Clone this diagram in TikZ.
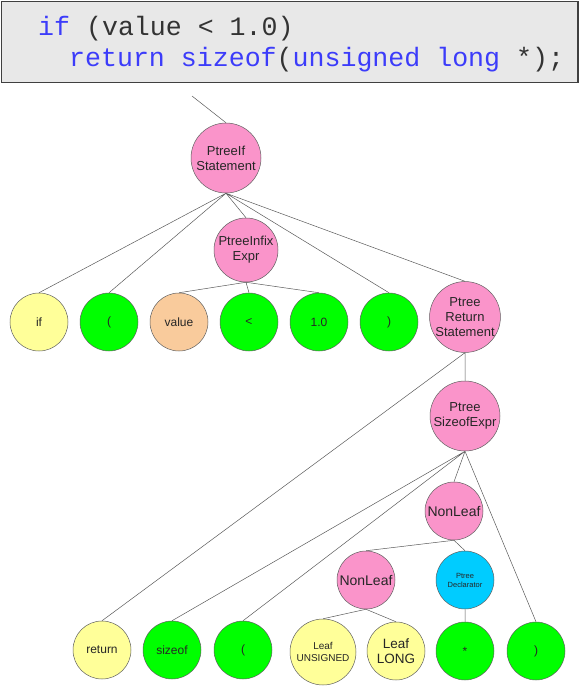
\documentclass[tikz,border=0pt]{standalone}
\usepackage{fontspec}
\setmainfont{Liberation Sans}
\setmonofont{Liberation Mono}
\usepackage{tikz}
\usetikzlibrary{positioning}
\definecolor{keyblue}{RGB}{60,60,250}
\definecolor{codegray}{RGB}{51,51,51}
\definecolor{pinkfill}{RGB}{250,148,202}
\definecolor{yellowfill}{RGB}{255,255,153}
\definecolor{greenfill}{RGB}{0,255,0}
\definecolor{orangefill}{RGB}{249,203,156}
\definecolor{cyanfill}{RGB}{0,204,255}
\newcommand{\kw}[1]{\textcolor{keyblue}{#1}}
\newcommand{\fs}[2]{\fontsize{#1}{#2}\selectfont}

\begin{document}
\begin{tikzpicture}[x=1pt, y=-1pt,
    ast/.style={circle, draw=gray!75!black, line width=0.5pt, inner sep=0pt,
                align=center, minimum size=58pt, text=black!85, font=\fs{12}{14}},
    big/.style={ast, minimum size=70pt, font=\fs{13}{15}},
    pinknode/.style={fill=pinkfill},
    yellownode/.style={fill=yellowfill},
    greennode/.style={fill=greenfill},
    orangenode/.style={fill=orangefill},
    cyannode/.style={fill=cyanfill},
    link/.style={draw=gray!70!black, line width=0.5pt}]
      \useasboundingbox (0, 0) rectangle (580, 686);
      \draw[fill=black!9, draw=black!75, line width=1.5pt] (1.5, 1.5) rectangle (578, 82.5);
      \node (codeif) [anchor=base west, inner sep=0pt, font=\ttfamily\fs{26.6}{30}, text=codegray]
            at (38, 35) {\kw{if} (value < 1.0)};
      \node (coderet) [anchor=base west, inner sep=0pt, font=\ttfamily\fs{26.6}{30}, text=codegray]
            at (69, 66.5) {\kw{return sizeof}(\kw{unsigned long} *);};

      \node (ifstmt) [big, pinknode] at (226, 158) {PtreeIf\\Statement};
      \node (infix) [big, pinknode, minimum size=64pt] at (246, 250) {PtreeInfix\\Expr};
      \node (kwif) [ast, yellownode] at (39, 322) {if};
      \node (lparen) [ast, greennode] at (109, 322) {(};
      \node (value) [ast, orangenode] at (179, 322) {value};
      \node (less) [ast, greennode] at (249, 322) {<};
      \node (num) [ast, greennode] at (319, 322) {1.0};
      \node (rparen) [ast, greennode] at (389, 322) {)};
      \node (retstmt) [big, pinknode] at (465, 317) {Ptree\\Return\\Statement};
      \node (sizeofexpr) [big, pinknode] at (465, 416) {Ptree\\SizeofExpr};
      \node (nonleaf) [ast, pinknode, font=\fs{14}{16}] at (454, 511) {NonLeaf};
      \node (nonleafb) [ast, pinknode, font=\fs{14}{16}] at (366, 580) {NonLeaf};
      \node (declarator) [ast, cyannode, font=\fs{7.5}{9}] at (465, 580) {Ptree\\Declarator};
      \node (kwreturn) [ast, yellownode] at (102, 650) {return};
      \node (kwsizeof) [ast, greennode] at (172, 650) {sizeof};
      \node (lparenb) [ast, greennode] at (243, 650) {(};
      \node (leafu) [ast, yellownode, minimum size=66pt, font=\fs{10}{12}] at (323, 652) {Leaf\\UNSIGNED};
      \node (leafl) [ast, yellownode, font=\fs{13.5}{15}] at (396, 651) {Leaf\\LONG};
      \node (star) [ast, greennode] at (465, 651) {*};
      \node (rparenb) [ast, greennode] at (536, 651) {)};

      \coordinate (stub) at (192, 96);
      \draw[link] (stub) -- (ifstmt.north)
            (ifstmt.south) -- (kwif.north)
            (ifstmt.south) -- (lparen.north)
            (ifstmt.south) -- (infix.north)
            (ifstmt.south) -- (rparen.north)
            (ifstmt.south) -- (retstmt.north)
            (infix.south) -- (value.north)
            (infix.south) -- (less.north)
            (infix.south) -- (num.north)
            (retstmt.south) -- (kwreturn.north)
            (retstmt.south) -- (sizeofexpr.north)
            (sizeofexpr.south) -- (kwsizeof.north)
            (sizeofexpr.south) -- (lparenb.north)
            (sizeofexpr.south) -- (nonleaf.north)
            (sizeofexpr.south) -- (rparenb.north)
            (nonleaf.south) -- (nonleafb.north)
            (nonleaf.south) -- (declarator.north)
            (nonleafb.south) -- (leafu.north)
            (nonleafb.south) -- (leafl.north)
            (declarator.south) -- (star.north);
\end{tikzpicture}
\end{document}
